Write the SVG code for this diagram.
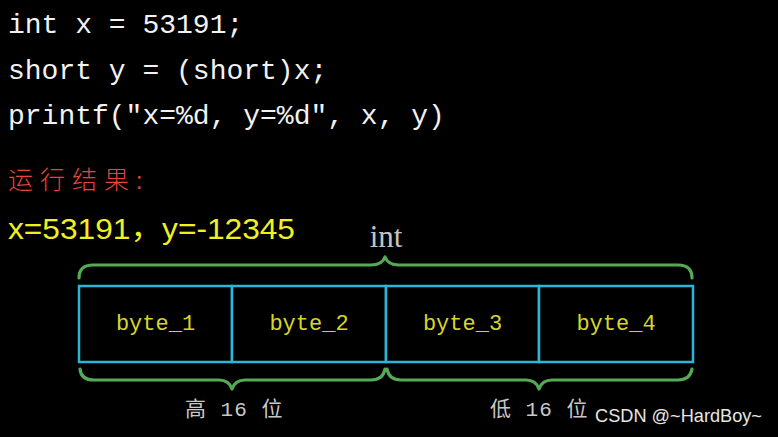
<svg xmlns="http://www.w3.org/2000/svg" width="778" height="437" viewBox="0 0 778 437">
<style>
.code{font-family:"Liberation Mono","DejaVu Sans Mono",monospace;font-size:28px;fill:#f2f2f2}
.cell{fill:#000;stroke:#2bb5d8;stroke-width:2.5}
.byte{font-family:"Liberation Mono","DejaVu Sans Mono",monospace;font-size:22px;fill:#d6d62a;text-anchor:middle}
.brace{fill:none;stroke:#55ab55;stroke-width:3.2;stroke-linejoin:round;stroke-linecap:round}
.lbl{font-family:"Liberation Mono","Noto Sans CJK SC",monospace;font-size:21px;fill:#c8c8c8}
</style>
<rect width="778" height="437" fill="#000"/>
<g id="code">
<text class="code" x="8" y="33">int x = 53191;</text>
<text class="code" x="8" y="79">short y = (short)x;</text>
<text class="code" x="8" y="124">printf("x=%d, y=%d", x, y)</text>
</g>
<g id="result-title">
<text x="8" y="189" font-family="'Noto Sans CJK SC',sans-serif" font-size="25" font-weight="300" fill="#e5453a" letter-spacing="7">运行结果:</text>
</g>
<g id="result">
<text x="8" y="239" font-family="'Liberation Sans','Noto Sans CJK SC',sans-serif" font-size="29" fill="#f0f020" textLength="287" lengthAdjust="spacingAndGlyphs">x=53191，y=-12345</text>
</g>
<g id="int-label">
<text x="386" y="247" font-family="'Liberation Serif',serif" font-size="31" fill="#c4c4c4" text-anchor="middle">int</text>
</g>
<g id="byte_1"><rect class="cell" x="79" y="286" width="153" height="76"/><text class="byte" x="155.5" y="330">byte_1</text></g>
<g id="byte_2"><rect class="cell" x="232" y="286" width="154" height="76"/><text class="byte" x="309" y="330">byte_2</text></g>
<g id="byte_3"><rect class="cell" x="386" y="286" width="153" height="76"/><text class="byte" x="462.5" y="330">byte_3</text></g>
<g id="byte_4"><rect class="cell" x="539" y="286" width="154" height="76"/><text class="byte" x="616" y="330">byte_4</text></g>
<g id="connectors">
<path class="brace" d="M79,278 Q79,265 93,265 L371,265 Q382,265 385,257 Q388,265 399,265 L678,265 Q692,265 692,278"/>
<path class="brace" d="M80,369 Q81,380 94,380 L219,380 Q229,380 232,389 Q235,380 245,380 L371,380 Q383,380 385,369"/>
<path class="brace" d="M387,369 Q389,380 401,380 L526,380 Q536,380 539,389 Q542,380 552,380 L678,380 Q690,380 692,369"/>
</g>
<g id="high16"><text class="lbl" x="185" y="416" letter-spacing="1">高 16 位</text></g>
<g id="low16"><text class="lbl" x="490" y="416" letter-spacing="1">低 16 位</text></g>
<g id="watermark"><text x="595" y="422" font-family="'Liberation Sans',sans-serif" font-size="19" fill="#e6e6e6" textLength="167" lengthAdjust="spacingAndGlyphs">CSDN @~HardBoy~</text></g>
</svg>
